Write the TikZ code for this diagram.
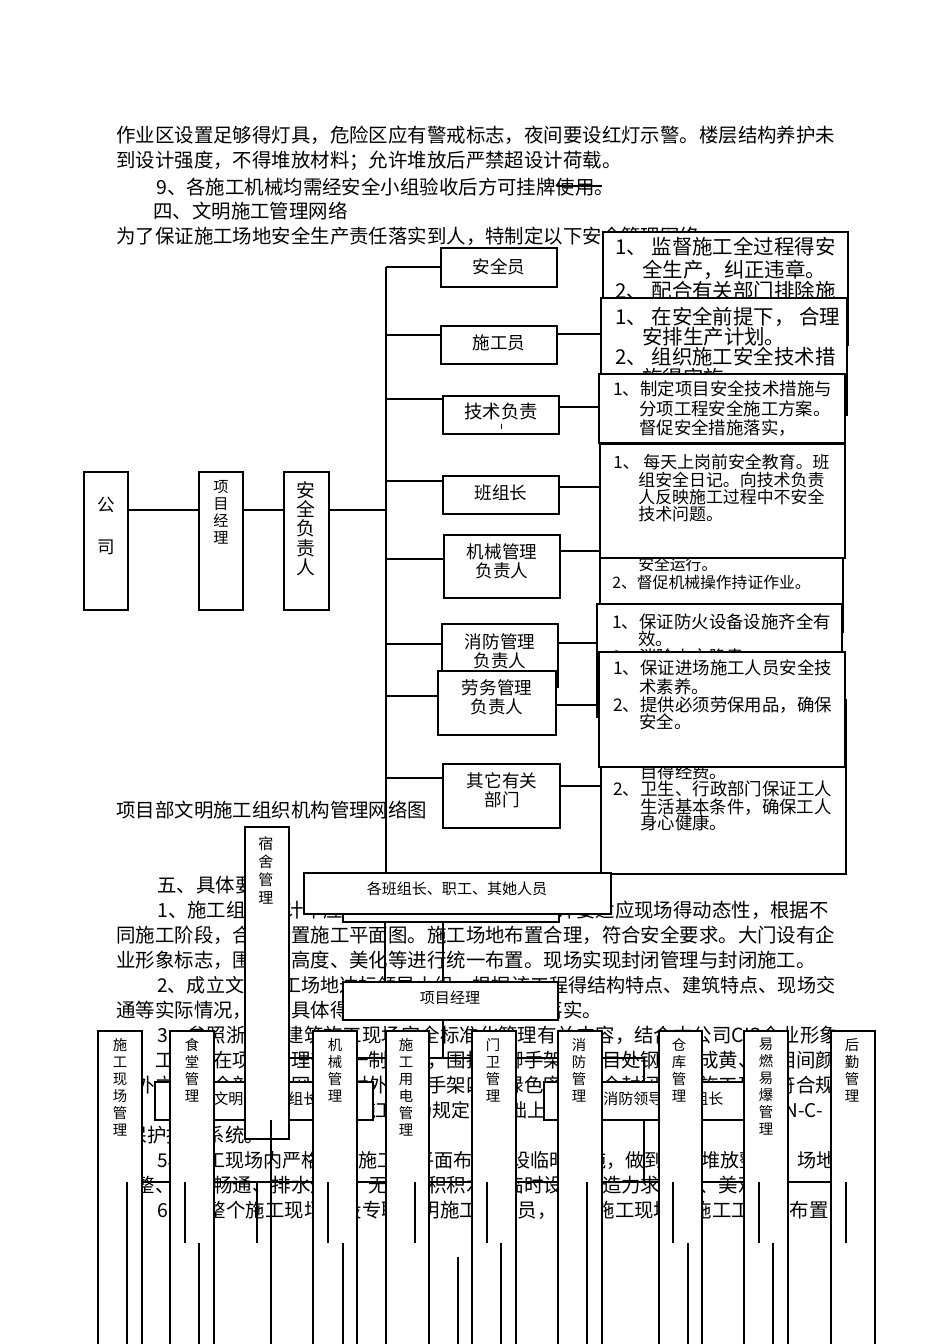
\documentclass[tikz,border=0pt]{standalone}
\usepackage{fontspec}
\setmainfont{Noto Sans CJK SC}
\usetikzlibrary{fit}
\newcommand{\myfs}[2]{\fontsize{#1}{#2}\selectfont}
\begin{document}
\begin{tikzpicture}[x=0.6263pt,y=-0.6263pt,
  ln/.style={line width=0.8pt},
  bx/.style={draw, fill=white, line width=0.8pt, inner sep=0pt, align=center},
  body/.style={anchor=west, inner sep=0pt, font=\myfs{12.17}{14}},
  da/.style={anchor=west, inner sep=0pt, font=\myfs{12.8}{15}},
  dc/.style={anchor=west, inner sep=0pt, font=\myfs{10.9}{13}},
  dd/.style={anchor=west, inner sep=0pt, font=\myfs{10.6}{13}},
  de/.style={anchor=west, inner sep=0pt, font=\myfs{9.9}{12}},
  lbl/.style={inner sep=0pt, align=center, font=\myfs{11}{11.9}},
  sml/.style={inner sep=0pt, font=\myfs{9.4}{11}},
  vt/.style={anchor=north, inner sep=0pt, align=center, font=\myfs{9}{10.65}},
]
\useasboundingbox (0,0) rectangle (950,1344);
\clip (0,0) rectangle (950,1344);

% ---------------- body text ----------------
\node[body] (p1) at (116,135) {作业区设置足够得灯具，危险区应有警戒标志，夜间要设红灯示警。楼层结构养护未};
\node[body] (p2) at (116,161) {到设计强度，不得堆放材料；允许堆放后严禁超设计荷载。};
\node[body] (p3) at (156,187) {9、各施工机械均需经安全小组验收后方可挂牌使用。};
\node[body] (p4) at (153,211) {四、文明施工管理网络};
\node[body] (p5) at (116,236) {为了保证施工场地安全生产责任落实到人，特制定以下安全管理网络};
\node[body] (p6) at (116,810) {项目部文明施工组织机构管理网络图};
\node[body] (p7) at (157,885) {五、具体要求};
\node[body] (p8) at (157,910) {1、施工组织设计中应有施工现场平面布置图，并要适应现场得动态性，根据不};
\node[body] (p9) at (116,935) {同施工阶段，合理布置施工平面图。施工场地布置合理，符合安全要求。大门设有企};
\node[body] (p10) at (116,960) {业形象标志，围墙得高度、美化等进行统一布置。现场实现封闭管理与封闭施工。};
\node[body, font=\myfs{11.94}{14}] (p11) at (157,985) {2、成立文明施工场地达标领导小组，根据该工程得结构特点、建筑特点、现场交};
\node[body] (p12) at (116,1010) {通等实际情况，制定具体得文明施工实施方案，并落实。};
\node[body] (p13) at (157,1035) {3、参照浙江省建筑施工现场安全标准化管理有关内容，结合本公司CIS企业形象};
\node[body] (p14) at (116,1060) {求，工程所在项目管理部统一制标牌，围挡、脚手架等项目处钢管刷成黄、黑相间颜};
\node[body] (p15) at (116,1085) {楼外立面等全部挂设网，并对外用脚手架四周绿色密目网全封闭，使施工现场符合规};
\node[body, font=\myfs{11.85}{14}] (p16) at (157,1110) {4、施工现场临时用电按施工现场规定在基础上，全部实行三级配电，采用TN-C-};
\node[body] (p17) at (116,1135) {S保护接地系统。};
\node[body, font=\myfs{11.94}{14}] (p18) at (157,1160) {5、施工现场内严格按照施工总平面布置图设临时设施，做到材料堆放整齐，场地};
\node[body] (p19) at (116,1185) {平整、道路畅通、排水通畅，无大面积积水，临时设施建造力求整齐、美观。};
\node[body] (p20) at (157,1210) {6、在整个施工现场内设专职文明施工管理员，负责施工现场、施工工地得布置};
\coordinate (s1) at (557,186); \coordinate (s2) at (602,186);
\draw[ln] (s1) -- (s2);

% ---------------- upper chart: left chain ----------------
\node[bx, fit={(84,472)(128,610)}] (gs) {};
\node[lbl] (gs1) at (106,505) {公};
\node[lbl] (gs2) at (106,547) {司};
\node[bx, fit={(199,472)(243,610)}] (xmjl) {};
\node[vt, font=\myfs{9.5}{10.6}] (xmjlt) at (221,480) {项\\目\\经\\理};
\node[bx, fit={(284,472)(329,610)}] (aqfz) {};
\node[vt, font=\myfs{11.8}{12.1}] (aqfzt) at (306,481) {安\\全\\负\\责\\人};

\coordinate (h510) at (0,510);
\coordinate (bus) at (386,510);
\draw[ln] (gs.east |- h510) -- (xmjl.west |- h510);
\draw[ln] (xmjl.east |- h510) -- (aqfz.west |- h510);
\draw[ln] (aqfz.east |- h510) -- (bus);
\coordinate (busT) at (386,267);
\coordinate (busB) at (386,873);
\draw[ln] (busT) -- (busB);

% branch boxes
\node[bx, fit={(441,248)(557,287)}] (aqy) {};
\node[lbl] (aqyt) at (499,267) {安全员};
\node[bx, fit={(441,326)(557,364)}] (sgy) {};
\node[lbl] (sgyt) at (499,343) {施工员};
\node[bx, fit={(443,396)(559,434)}] (jsfz) {};
\node[lbl, font=\myfs{11.5}{12}] (jsfzt) at (501,412) {技术负责};
\coordinate (tk1) at (501,424); \coordinate (tk2) at (501,429);
\draw[line width=0.6pt] (tk1) -- (tk2);
\node[bx, fit={(443,476)(559,514)}] (bzz) {};
\node[lbl] (bzzt) at (501,493) {班组长};
\node[bx, fit={(444,535)(560,598)}] (jx) {};
\node[lbl] (jxt) at (502,561) {机械管理\\负责人};
\node[bx, fit={(442,624)(558,687)}] (xf) {};
\node[lbl] (xft) at (500,651) {消防管理\\负责人};
\node[bx, fit={(438,671)(556,735)}] (lw) {};
\node[lbl] (lwt) at (497,697) {劳务管理\\负责人};
\node[bx, fit={(443,764)(560,828)}] (qt) {};
\node[lbl] (qtt) at (502,790) {其它有关\\部门};

\coordinate (b2) at (386,335);
\coordinate (b3) at (386,399);
\coordinate (b4) at (386,481);
\coordinate (b5) at (386,559);
\coordinate (b6) at (386,644);
\coordinate (b7) at (386,696);
\coordinate (b8) at (386,778);
\draw[ln] (busT) -- (aqy.west |- busT);
\draw[ln] (b2) -- (sgy.west |- b2);
\draw[ln] (b3) -- (jsfz.west |- b3);
\draw[ln] (b4) -- (bzz.west |- b4);
\draw[ln] (b5) -- (jx.west |- b5);
\draw[ln] (b6) -- (xf.west |- b6);
\draw[ln] (b7) -- (lw.west |- b7);
\draw[ln] (b8) -- (qt.west |- b8);

% ---------------- duty boxes ----------------
\node[bx, fit={(603,232)(848,345)}] (dA) {};
\node[da] (a1) at (615,247) {1、 监督施工全过程得安};
\node[da] (a2) at (642,270) {全生产，纠正违章。};
\node[da] (a3) at (615,291) {2、 配合有关部门排除施};

\node[bx, fit={(601,298)(847,415)}] (dB) {};
\node[da] (b1t) at (615,317) {1、 在安全前提下， 合理};
\node[da] (b2t) at (642,337) {安排生产计划。};
\node[da] (b3t) at (615,357) {2、 组织施工安全技术措};
\node[da] (b4t) at (642,378) {施得实施。};

\node[bx, fit={(599,374)(845,443)}] (dC) {};
\node[dc] (c1) at (613,389) {1、制定项目安全技术措施与};
\node[dc] (c2) at (639,409) {分项工程安全施工方案。};
\node[dc] (c3) at (639,428) {督促安全措施落实，};

\node[bx, fit={(600,520)(843,632)}] (dE) {};
\node[de] (e1) at (638,564) {安全运行。};
\node[de] (e2) at (612,582) {2、督促机械操作持证作业。};

\node[bx, fit={(600,444)(845,558)}] (dD) {};
\node[dd] (d1) at (613,462) {1、 每天上岗前安全教育。班};
\node[dd] (d2) at (638,480) {组安全日记。向技术负责};
\node[dd] (d3) at (638,497) {人反映施工过程中不安全};
\node[dd] (d4) at (638,514) {技术问题。};

\node[bx, fit={(597,604)(842,717)}] (dF) {};
\node[dc] (f1) at (612,622) {1、保证防火设备设施齐全有};
\node[dc] (f2) at (638,639) {效。};
\node[dc] (f3) at (612,657) {2、消除火灾隐患。};

\node[bx, fit={(601,700)(846,874)}] (dH) {};
\node[dc] (hh1) at (640,772) {目得经费。};
\node[dc] (hh2) at (613,789) {2、卫生、行政部门保证工人};
\node[dc] (hh3) at (640,807) {生活基本条件，确保工人};
\node[dc] (hh4) at (640,823) {身心健康。};

\node[bx, fit={(599,652)(845,767)}] (dG) {};
\node[dc] (g1) at (613,668) {1、保证进场施工人员安全技};
\node[dc] (g2) at (639,687) {术素养。};
\node[dc] (g3) at (613,705) {2、提供必须劳保用品，确保};
\node[dc] (g4) at (639,722) {安全。};

% right connectors
\coordinate (r2) at (0,334);
\coordinate (r3) at (0,407);
\coordinate (r4) at (0,487);
\coordinate (r5) at (0,551);
\coordinate (r6) at (0,643);
\coordinate (r7) at (0,705);
\coordinate (r8) at (0,786);
\draw[ln] (sgy.east |- r2) -- (dB.west |- r2);
\draw[ln] (jsfz.east |- r3) -- (dC.west |- r3);
\draw[ln] (bzz.east |- r4) -- (dD.west |- r4);
\draw[ln] (jx.east |- r5) -- (dD.west |- r5);
\draw[ln] (xf.east |- r6) -- (dF.west |- r6);
\draw[ln] (lw.east |- r7) -- (dG.west |- r7);
\draw[ln] (qt.east |- r8) -- (dH.west |- r8);

% ---------------- lower chart ----------------
\coordinate (m385a) at (385,914); \coordinate (m385b) at (385,982);
\coordinate (m443a) at (443,914); \coordinate (m443b) at (443,1058);
\draw[ln] (m385a) -- (m385b);
\draw[ln] (m443a) -- (m443b);
\coordinate (hL) at (267,1058); \coordinate (hR) at (644,1058);
\draw[ln] (hL) -- (hR);
\coordinate (vR2) at (644,1182);
\draw[ln] (hR) -- (vR2);

\node[bx, fit={(343,880)(559,922)}] (back) {};
\node[bx, fit={(304,873)(611,914)}] (bz) {};
\node[sml] (bzt) at (457,889) {各班组长、职工、其她人员};
\node[bx, fit={(343,982)(558,1020)}] (xm2) {};
\node[sml] (xm2t) at (450,998) {项目经理};
\node[bx, fit={(155,1082)(373,1120)}] (wm) {};
\node[sml, anchor=west] (wmt) at (213,1099) {文明施工小组长};
\node[bx, fit={(544,1082)(782,1120)}] (xfl) {};
\node[sml, anchor=west] (xflt) at (603,1099) {消防领导小组组长};
\node[bx, fit={(245,827)(289,1139)}] (ss) {};
\node[vt, font=\myfs{9.4}{11.3}] (sst) at (266,836) {宿\\舍\\管\\理};

\coordinate (hb1) at (127,1182); \coordinate (hb2) at (846,1182);
\draw[ln] (hb1) -- (hb2);

\node[bx, fit={(98,1031)(142,1350)}] (v1) {};
\node[vt] (v1t) at (120,1038) {施\\工\\现\\场\\管\\理};
\node[bx, fit={(170,1031)(214,1350)}] (v2) {};
\node[vt] (v2t) at (192,1038) {食\\堂\\管\\理};
\node[bx, fit={(313,1031)(357,1350)}] (v3) {};
\node[vt] (v3t) at (335,1038) {机\\械\\管\\理};
\node[bx, fit={(386,1031)(429,1350)}] (v4) {};
\node[vt] (v4t) at (406,1038) {施\\工\\用\\电\\管\\理};
\node[bx, fit={(472,1031)(516,1350)}] (v5) {};
\node[vt] (v5t) at (493,1038) {门\\卫\\管\\理};
\node[bx, fit={(558,1031)(602,1350)}] (v6) {};
\node[vt] (v6t) at (579,1038) {消\\防\\管\\理};
\node[bx, fit={(659,1031)(702,1350)}] (v7) {};
\node[vt] (v7t) at (679,1038) {仓\\库\\管\\理};
\node[bx, fit={(744,1031)(788,1350)}] (v8) {};
\node[vt] (v8t) at (766,1038) {易\\燃\\易\\爆\\管\\理};
\node[bx, fit={(831,1031)(875,1350)}] (v9) {};
\node[vt] (v9t) at (852,1038) {后\\勤\\管\\理};

% lines drawn over the boxes
\coordinate (z127) at (127,1350);
\draw[ln] (hb1) -- (z127);
\coordinate (y271a) at (271,1120); \coordinate (y271b) at (271,1350);
\draw[ln] (y271a) -- (y271b);
\coordinate (y587a) at (587,1182); \coordinate (y587b) at (587,1350);
\draw[ln] (y587a) -- (y587b);
\foreach \xx in {185,257,328,415,487,673,759,846} {
  \draw[ln] (\xx,1182) -- (\xx,1243);
}
\foreach \xx in {199,343,501,688,773} {
  \draw[ln] (\xx,1243) -- (\xx,1350);
}
\draw[ln] (458,1257) -- (458,1350);
\end{tikzpicture}
\end{document}
